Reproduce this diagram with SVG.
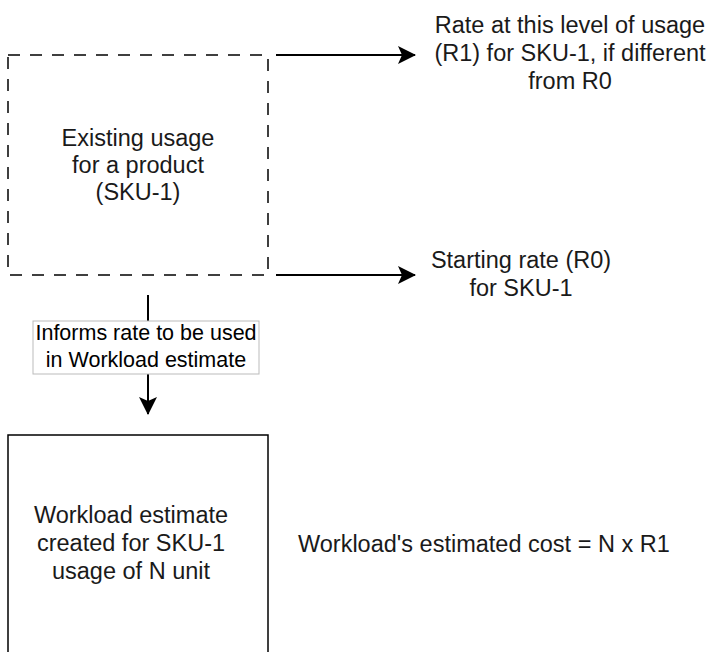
<svg xmlns="http://www.w3.org/2000/svg" width="715" height="652" viewBox="0 0 715 652">
<style>
text{font-family:"Liberation Sans",Arial,Helvetica,sans-serif;font-size:23.5px;fill:#1a1a1a}
.c{text-anchor:middle}
.lbl{font-size:21.5px;fill:#000}
.edge{stroke:#000;stroke-width:2;fill:none}
</style>
<defs>
<marker id="arr" markerUnits="userSpaceOnUse" markerWidth="20" markerHeight="20" refX="17" refY="9" orient="auto" viewBox="0 0 20 18">
<path d="M0,0 L18,9 L0,18 L4,9 Z" fill="#000"/>
</marker>
</defs>
<rect width="715" height="652" fill="#fff"/>
<g id="node-existing">
<rect x="8" y="55" width="260" height="220" fill="none" stroke="#000" stroke-width="1.5" stroke-dasharray="12 10"/>
<text class="c" x="138" y="146">Existing usage</text>
<text class="c" x="138" y="173">for a product</text>
<text class="c" x="138" y="200">(SKU-1)</text>
</g>
<g id="node-rate-r1">
<text class="c" x="570" y="33">Rate at this level of usage</text>
<text class="c" x="570" y="61">(R1) for SKU-1, if different</text>
<text class="c" x="570" y="89">from R0</text>
</g>
<g id="node-rate-r0">
<text class="c" x="521" y="268">Starting rate (R0)</text>
<text class="c" x="521" y="296">for SKU-1</text>
</g>
<g id="node-workload">
<rect x="8" y="435" width="260" height="240" fill="none" stroke="#000" stroke-width="1.5"/>
<text class="c" x="131" y="523">Workload estimate</text>
<text class="c" x="131" y="551">created for SKU-1</text>
<text class="c" x="131" y="579">usage of N unit</text>
</g>
<g id="node-cost">
<text x="298" y="552">Workload's estimated cost = N x R1</text>
</g>
<g id="connectors">
<line class="edge" x1="276" y1="55" x2="415" y2="55" marker-end="url(#arr)"/>
<line class="edge" x1="276" y1="275" x2="415" y2="275" marker-end="url(#arr)"/>
<line class="edge" x1="148" y1="295" x2="148" y2="414" marker-end="url(#arr)"/>
<g id="edge-label">
<rect x="33" y="321" width="226" height="53" fill="#fff" stroke="#bbb" stroke-width="1"/>
<text class="c lbl" x="146" y="340">Informs rate to be used</text>
<text class="c lbl" x="146" y="367">in Workload estimate</text>
</g>
</g>
</svg>
